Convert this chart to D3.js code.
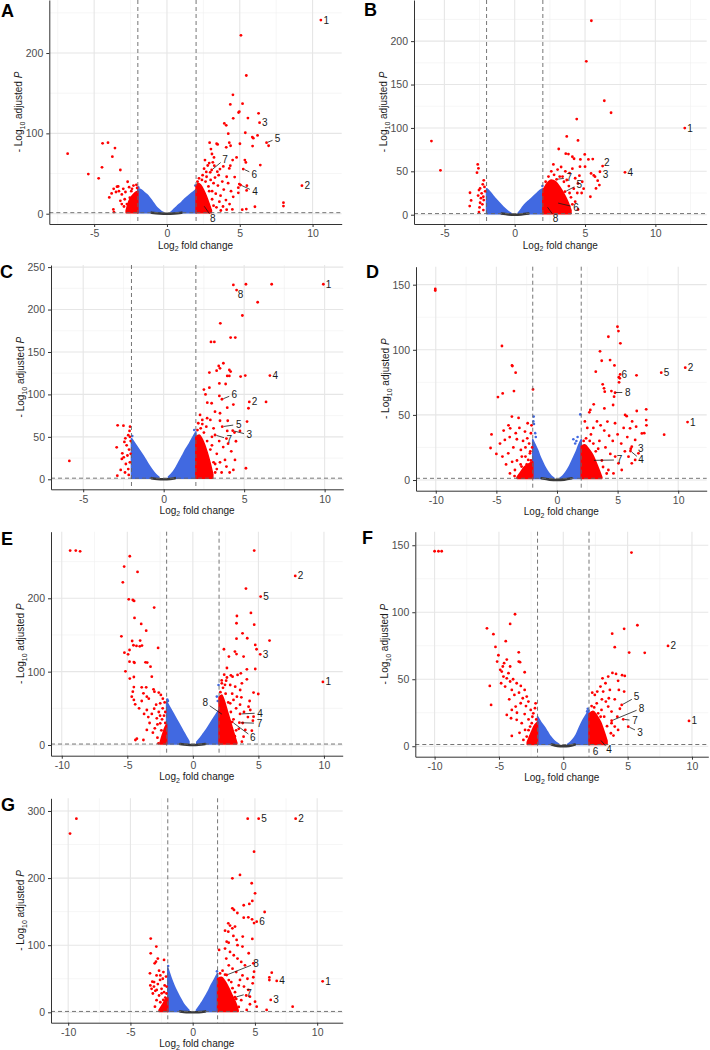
<!DOCTYPE html>
<html><head><meta charset="utf-8">
<script src="https://cdn.jsdelivr.net/npm/d3@7"></script>
<style>body{margin:0;background:#fff;} svg{display:block;font-family:'Liberation Sans',Arial,sans-serif;}</style>
</head><body><svg id="c" width="710" height="1050"></svg>
<script>
// ---------------- DATA ----------------
const THRESH_FC = 2, THRESH_P = 1.3;

// Panel A
const A_xRange=[-8.08,12.0], A_yRange=[-12.8,266], A_xTicks=[-5,0,5,10], A_yTicks=[0,100,200];
const A_blueL=[[-2,31],[-1.8,30],[-1.6,27],[-1.4,24],[-1.2,20],[-1,15],[-0.8,10],[-0.6,6],[-0.4,3],[-0.25,1.5]];
const A_blueR=[[0.25,1.5],[0.4,4],[0.6,7.5],[0.8,11],[1,14],[1.2,18],[1.4,21],[1.6,24],[1.8,27],[2,30]];
const A_blueX=[[1.95,35],[-1.97,33]];
const A_gray=[[-1.05,1.3],[-0.5,0.3],[0,0],[0.5,0.3],[1.0,1.3]];
const A_denseR=[[2,34],[2.15,38],[2.3,36],[2.5,30],[2.7,22],[2.9,12],[3.05,4]];
const A_denseL=[[-2.8,4],[-2.6,16],[-2.4,22],[-2.2,26],[-2.0,28]];
const A_red=[[-6.82,74.7],[-5.4,49.4],[-4.69,44],[-4.42,87.6],[-4.05,88.4],[-3.57,81.7],[-3.75,71],[-4.46,57.7],[-3.2,54.4],[-3.96,20.3],[-3.8,25.3],[-3.66,31],[-3.43,33.6],[-3.35,34],[-2.7,39.8],[-3.68,5.4],[-3.64,2],[-3.3,28],[-3.1,24],[-3.0,31],[-2.9,18],[-2.85,27],[-2.75,12],[-2.6,33],[-2.55,20],[-2.5,8],[-2.45,28],[-2.35,15],[-2.3,35],[-2.25,5],[-2.2,22],[-2.15,10],[-2.1,36],[-3.2,16],[-2.95,9],[-2.65,4],[-3.5,27],[-3.1,12],[-2.05,32],[-2.4,31],
[10.57,241],[5.08,222],[5.45,172],[4.53,148],[4.35,136],[5.19,137],[4.97,127],[4.92,126],[4.55,118.7],[5.56,119],[6.29,125],[6.36,113.3],[5.38,100.8],[3.94,112.4],[4.07,110],[4.21,99.6],[5.86,95.4],[5.93,94],[6.22,97.5],[6.84,88.4],[6.98,84.6],[5.88,84.2],[5.01,87.1],[4.28,88.4],[4.37,84.6],[4.07,82.6],[2.93,88.4],[3.41,87.1],[3.48,86.3],[3.02,80.5],[3.09,74.3],[3.23,70.1],[4.78,70.1],[4.51,66.8],[5.35,66.8],[5.42,63.9],[6.41,60.6],[5.24,55.6],[2.61,66.8],[3.87,58.9],[4.28,56.4],[4.35,59.8],[4.65,45.6],[5.06,35.7],[5.49,34.9],[4.9,32.4],[5.47,29],[9.27,34.9],[8.0,13.7],[8.0,9.5],[6.04,8.7],[5.45,5.8],[5.17,5],[4.49,5.4],[4.1,5],[4.97,36.9],[4.9,26],[4.55,21],[4.05,17],[3.68,22.4],[3.46,52.3],[3.64,55.6],[3.25,59.8],[2.97,51.5],[2.72,46],[3.07,54.4],[2.5,10.8],[3.8,40],[3.5,35],[3.3,45],[3.9,30],[4.2,38],[3.6,15],[3.4,8],[3.0,4],[3.7,4],[2.8,60],[2.9,63],[3.15,64],[3.55,48],[4.1,46],[4.4,28],[3.2,38],[3.1,28],[2.7,52],[2.55,56],[3.35,25],[4.3,12],[3.85,9],[2.85,34],[2.65,40],[2.2,44],[2.4,42],[2.1,40],[2.9,28],[3.1,18],[3.2,10],[2.45,48],[3.0,42]];
const A_labels=[[1,10.57,241,null,null],[2,9.27,34.9,null,null],[3,6.36,113.3,null,null],[4,5.06,35.7,6.04,27.4],[5,6.84,88.4,7.6,93.8],[6,5.24,55.6,6.0,49.4],[7,3.07,54.4,3.98,68.1],[8,2.5,10.8,3.14,-5.8]];

// Panel B
const B_xRange=[-7.16,13.65], B_yRange=[-10.7,247.4], B_xTicks=[-5,0,5,10], B_yTicks=[0,50,100,150,200];
const B_blueL=[[-2,30],[-1.8,27],[-1.6,23],[-1.4,19],[-1.2,15.5],[-1,12],[-0.8,8.5],[-0.6,5.5],[-0.4,3],[-0.25,1.5]];
const B_blueR=[[0.25,2],[0.4,5],[0.6,9.5],[0.8,13],[1.0,16],[1.2,19],[1.4,22],[1.6,25],[1.8,28],[2,30]];
const B_blueX=[[1.97,33]];
const B_gray=[[-0.92,1.3],[-0.45,0.3],[0,0],[0.45,0.3],[0.97,1.3]];
const B_denseR=[[2,28],[2.3,36],[2.6,40],[2.9,38],[3.2,32],[3.5,24],[3.8,14],[4.0,5]];
const B_denseL=[];
const B_red=[[-5.92,84.9],[-5.28,51.1],[-2.63,58],[-2.58,53.4],[-2.68,48.4],[-3.18,25.3],[-3.1,16.5],[-3.2,10],[-2.2,39.6],[-2.27,35],[-2.46,30.3],[-2.54,28.4],[-2.35,24.6],[-2.23,20.7],[-2.2,16.9],[-2.46,13.8],[-2.5,8.4],[-2.23,5.4],[-2.54,3],[-2.3,12],[-2.1,27],[-2.4,19],[-2.15,32],[-2.6,22],
[12.09,99.8],[5.45,223.5],[5.09,176.7],[6.37,131.3],[6.85,117.5],[4.41,110.2],[3.7,90.2],[4.5,85.6],[3.13,75.7],[3.63,70.3],[3.82,69.9],[4.98,69.5],[5.55,64.1],[5.24,63.7],[4.22,64.5],[4.67,63.7],[4.1,66.8],[6.25,56],[6.06,49.5],[7.84,48.8],[5.0,55.3],[4.64,55.3],[5.43,47.6],[5.62,45.3],[5.71,43.8],[5.9,39.2],[6.02,34.2],[5.78,30.3],[5.38,20.7],[2.98,40.8],[3.57,26.5],[2.98,13.8],[2.27,10],[4.1,53],[3.9,48],[3.6,50],[3.3,55],[3.05,52],[2.75,58],[2.6,50],[3.4,44],[4.3,42],[4.5,36],[4.2,30],[4.45,25],[4.0,20],[4.3,15],[3.8,10],[4.5,6],[3.5,4],[3.2,7],[4.8,38],[4.6,45],[2.9,3],[3.85,33],[3.7,40],[4.76,25],[4.9,30],[2.4,44],[2.2,38],[2.8,46],[3.2,44],[3.5,38],[3.9,25],[4.1,12]];
const B_labels=[[1,12.09,99.8,null,null],[2,6.25,56,6.55,59.8],[3,6.06,49.5,6.45,45.8],[4,7.84,48.8,null,null],[5,3.57,26.5,4.59,35],[6,2.98,13.8,4.36,8.5],[7,2.98,40.8,3.88,42.6],[8,2.27,10,2.91,-4.1]];

// Panel C
const C_xRange=[-7.0,11.16], C_yRange=[-11.8,252.5], C_xTicks=[-5,0,5,10], C_yTicks=[0,50,100,150,200,250];
const C_blueL=[[-2,48],[-1.75,41],[-1.5,34],[-1.25,27],[-1,19],[-0.75,12],[-0.5,6],[-0.3,2.5]];
const C_blueR=[[0.3,3],[0.6,9],[0.8,15],[1,22],[1.2,29],[1.4,36],[1.6,42],[1.8,49],[2,56]];
const C_blueX=[[1.9,58],[-1.95,51]];
const C_gray=[[-0.75,1.3],[-0.4,0.3],[0,0],[0.4,0.3],[0.7,1.3]];
const C_denseR=[[2,50],[2.2,52],[2.45,45],[2.7,32],[2.9,18],[3.05,6]];
const C_denseL=[];
const C_red=[[-5.86,21.6],[-2.86,63.6],[-2.5,63.2],[-2.92,37.7],[-2.38,48.3],[-2.44,44],[-2.57,30.6],[-2.48,25.9],[-2.67,11],[-2.88,4.3],[-2.17,5.1],[-2.09,62],[-2.12,57],[-2.2,52],[-2.3,40],[-2.15,35],[-2.25,28],[-2.1,20],[-2.35,18],[-2.2,12],[-2.4,8],[-2.6,24],[-2.05,45],[-2.1,50],[-2.05,30],
[9.92,229.8],[4.33,229],[5.11,229.8],[6.71,229.8],[4.53,223],[5.84,208.6],[4.89,193],[3.52,183.8],[2.94,161.8],[3.15,161.8],[4.16,167],[4.45,167],[2.84,125.7],[3.71,136.7],[3.42,133.5],[3.5,130.8],[3.29,128],[4.08,128.8],[4.16,126.9],[3.95,121.8],[4.08,121.8],[4.78,121],[5.07,122.2],[6.6,122.2],[3.46,113],[3.85,112.3],[2.84,108],[2.5,105.7],[2.6,100],[3.62,94.3],[3.46,98.2],[5.32,91.1],[6.36,91.1],[5.27,83.7],[4.33,88],[3.95,84.4],[2.71,90.3],[2.98,89.6],[3.19,79.7],[3.5,77.8],[2.26,75.8],[5.18,68],[3.98,69],[3.5,69],[3.64,62],[3.95,57],[4.74,57],[4.29,57.3],[4.4,55],[3.19,52.2],[4.49,44.8],[3.81,22.8],[4.43,22.8],[5.11,13],[4.33,11],[4.1,8],[3.6,8],[3.3,30],[3.7,38],[4.0,42],[4.2,33],[3.45,45],[3.9,48],[3.1,60],[2.9,70],[2.7,72],[2.4,65],[3.3,12],[3.9,15],[3.0,40],[3.5,20],[3.2,18],[2.9,8],[2.1,58],[2.3,60],[2.5,55],[2.7,45],[2.9,35],[3.1,20],[3.2,8],[2.65,62],[2.4,70],[2.15,66],[3.0,50]];
const C_labels=[[1,9.92,229.8,null,null],[2,5.32,91.1,null,null],[3,4.29,57.3,5.32,52.2],[4,6.6,122.2,null,null],[5,3.64,62,4.66,64.8],[6,3.62,94.3,4.39,100.2],[7,3.19,52.2,4.08,47.1],[8,4.53,223,4.78,218]];

// Panel D
const D_xRange=[-11.63,12.35], D_yRange=[-8.2,163.8], D_xTicks=[-10,-5,0,5,10], D_yTicks=[0,50,100,150];
const D_blueL=[[-2,31],[-1.8,27],[-1.6,23],[-1.4,18],[-1.2,14],[-1,10],[-0.8,7],[-0.6,4.5],[-0.4,2.5],[-0.25,1.4]];
const D_blueR=[[0.25,1.4],[0.4,2.5],[0.6,4.5],[0.8,7],[1,10],[1.2,14],[1.4,18],[1.6,22],[1.8,27],[2,31]];
const D_blueX=[[-1.92,48.7],[-1.95,45],[-1.9,43],[-1.8,36],[-1.75,33],[1.92,50.4],[1.35,31.3],[1.6,30],[1.5,28],[1.7,33]];
const D_gray=[[-1.27,1.3],[-0.6,0.3],[0,0],[0.6,0.3],[1.21,1.3]];
const D_denseR=[[2,26],[2.3,27],[2.6,24],[2.9,20],[3.2,14],[3.5,7],[3.7,2]];
const D_denseL=[[-3.3,2],[-3.0,6],[-2.7,10],[-2.4,12],[-2.0,14]];
const D_red=[[-10.04,146.7],[-10.04,145.5],[-4.54,102.9],[-4.87,63.7],[-4.48,66.5],[-3.71,88],[-3.68,87.5],[-3.41,82.4],[-3.55,68.3],[-1.98,69.6],[-5.4,35],[-5.48,24.6],[-3.72,48.7],[-3.17,47.7],[-2.42,43.6],[-2.64,37.2],[-3.86,39.7],[-4.3,30.8],[-4.02,20.5],[-3.31,31.3],[-2.98,23.1],[-2.37,15.4],[-2.15,35.9],[-2.92,10.3],[-3.47,7.7],[-3.88,5.1],[-2.51,5.1],[-2.23,20.5],[-4.7,28],[-4.5,18],[-4.2,12],[-3.9,33],[-3.6,25],[-3.3,15],[-3.1,40],[-2.8,30],[-2.6,25],[-2.5,12],[-2.3,28],[-2.2,8],[-2.1,42],[-2.9,18],[-3.5,3],[-2.7,3],[-4.0,42],[-3.4,36],[-2.45,32],[-2.15,15],[-4.4,38],[-5.0,20],[-3.7,14],[-2.35,3],[-2.05,25],[-2.6,18],[-3.0,12],[-2.2,22],
[4.99,117.7],[5.07,114.4],[4.24,110],[5.23,105],[3.55,98.8],[3.69,91.6],[4.38,92.1],[3.2,83.2],[4.74,88],[6.56,80.4],[5.21,81.1],[5.18,78.1],[5.12,75],[3.77,73.5],[3.88,70.4],[4.49,68.3],[4.79,67],[4.71,64],[8.6,82.4],[10.58,86.3],[10.77,44.5],[8.84,34.8],[7.36,46],[7.36,54.3],[6.58,53],[7.38,42],[6.53,41],[7.0,35.8],[7.2,36],[5.62,50],[5.75,49],[3.94,67.8],[3.03,58.1],[2.75,53.8],[2.67,52],[4.63,57.6],[3.91,55],[4.16,44.9],[4.79,43.6],[6.03,39.7],[6.45,30.8],[6.17,25.6],[6.72,20.5],[5.9,17.9],[6.45,15.4],[6.17,12.8],[5.07,12.8],[5.34,7.7],[4.66,5.1],[4.24,7.7],[3.55,2.6],[3.0,40],[3.3,45],[3.6,42],[3.9,38],[4.3,34],[4.6,30],[5.0,35],[5.3,28],[5.6,22],[3.5,30],[4.0,25],[4.4,20],[4.8,18],[3.2,22],[3.7,15],[5.5,40],[6.2,45],[5.8,33],[2.8,35],[2.5,40],[2.3,45],[2.2,30],[6.09,24.1],[6.06,22.3],[2.92,15.1],[5.1,79],[2.4,32],[2.7,30],[3.0,28],[3.4,24],[3.8,10],[4.1,5]];
const D_labels=[[1,10.77,44.5,null,null],[2,10.58,86.3,null,null],[3,6.09,24.1,6.91,24.5],[4,6.06,22.3,6.94,15.5],[5,8.6,82.4,null,null],[6,5.1,79,5.56,81.3],[7,2.92,15.1,5.15,15.4],[8,4.71,67.2,5.84,67.2]];

// Panel E
const E_xRange=[-10.82,11.43], E_yRange=[-14.6,290.8], E_xTicks=[-10,-5,0,5,10], E_yTicks=[0,100,200];
const E_blueL=[[-2,59],[-1.75,51],[-1.5,43],[-1.25,35],[-1,27],[-0.75,19],[-0.5,11],[-0.3,5]];
const E_blueR=[[0.3,4],[0.5,8],[0.75,14],[1,20],[1.25,27],[1.5,34],[1.75,41],[2,48]];
const E_blueX=[[-1.95,62],[-1.9,60],[1.96,81.8],[1.83,66],[1.9,60]];
const E_gray=[[-0.97,1.3],[-0.45,0.3],[0,0],[0.45,0.3],[0.94,1.3]];
const E_denseR=[[2,65],[2.2,68],[2.4,60],[2.6,48],[2.8,36],[3.0,24],[3.2,12],[3.35,3]];
const E_denseL=[[-2.5,3],[-2.3,15],[-2.1,25],[-2,28]];
const E_red=[[-9.36,265],[-8.93,265],[-8.6,264],[-4.81,257.3],[-5.24,243.2],[-4.22,236],[-5.34,221.8],[-4.89,198.6],[-4.58,197.7],[-4.48,196.4],[-2.95,187.3],[-4.45,173.2],[-3.94,165],[-3.56,155.9],[-5.45,148.2],[-4.63,141.8],[-4.02,142.3],[-4.53,136],[-4.3,135],[-4.05,134.5],[-3.88,135.5],[-2.65,132.3],[-4.83,129.5],[-5.22,125.9],[-4.94,123.6],[-4.83,113.6],[-4.5,113],[-4.45,112],[-3.61,112.7],[-3.48,112.3],[-3.23,106.8],[-5.14,100.5],[-4.81,90.5],[-4.5,92.7],[-3.13,93.2],[-3.9,78.6],[-3.56,78.6],[-4.5,79],[-4.58,72.7],[-4.66,65.9],[-4.5,61.4],[-4.4,55.5],[-3.77,70.5],[-3.51,65.9],[-3.36,63.2],[-3.0,75.9],[-2.93,72.7],[-2.6,71.4],[-2.44,68.2],[-2.29,63.2],[-2.49,56.8],[-2.95,49.5],[-3.51,47.7],[-3.72,42.3],[-3.13,42.3],[-2.75,36.4],[-2.49,29.5],[-2.9,22.7],[-3.51,20.5],[-3.77,6.8],[-4.27,8.6],[-4.38,6.8],[-3.05,16.8],[-2.24,6.8],[-2.62,2.3],[-2.3,50],[-2.2,40],[-2.1,30],[-2.4,20],[-2.6,45],[-2.8,55],[-3.3,30],[-3.9,60],[-4.1,50],[-2.2,15],[-2.7,10],[-3.4,38],[-2.15,58],[-2.5,40],[-2.1,45],[-2.35,35],[-2.7,28],
[4.68,265],[7.81,230.5],[5.17,202.3],[4.05,213.2],[4.43,180],[3.36,175.9],[3.33,166],[4.68,164],[3.79,152.3],[4.15,145.5],[3.33,145],[5.85,142.3],[4.76,136.4],[4.86,130.5],[5.14,123.6],[2.37,130.5],[3.21,127.3],[3.33,124],[2.75,120.5],[4.12,103.2],[4.76,103.6],[9.92,86],[4.63,71.4],[4.99,69.5],[4.33,60],[4.38,47.7],[3.6,42.3],[3.55,30.4],[2.31,40.9],[3.0,31.4],[3.87,120.5],[3.66,97.7],[3.41,95.5],[3.03,93.2],[2.39,95.9],[2.21,84.1],[2.54,87.7],[2.85,81.8],[3.23,79.5],[3.61,75],[4.12,89.5],[3.74,84.1],[3.36,65.9],[3.1,61.4],[2.85,56.8],[4.25,52.3],[4.0,20.5],[4.5,19.5],[3.87,11.4],[3.1,6.8],[3.74,4.5],[4.63,38.6],[4.58,33.2],[3.3,50],[3.6,55],[3.9,45],[3.5,22],[3.8,30],[4.2,38],[3.2,12],[2.9,95],[2.6,92],[3.0,70],[2.6,105],[3.7,65],[2.1,72],[2.3,78],[2.5,70],[2.7,58],[2.9,45],[3.1,35],[3.3,20],[2.2,88],[2.45,82]];
const E_labels=[[1,9.92,86,null,null],[2,7.81,230.5,null,null],[3,5.14,123.6,null,null],[4,3.6,42.3,5.13,43.6],[5,5.17,202.3,null,null],[6,3.0,31.4,4.57,10.5],[7,3.55,30.4,5.08,29.6],[8,2.31,40.9,0.94,57.7]];

// Panel F
const F_xRange=[-11.5,11.27], F_yRange=[-7.8,160.1], F_xTicks=[-10,-5,0,5,10], F_yTicks=[0,50,100,150];
const F_blueL=[[-2,22],[-1.75,18],[-1.5,14.7],[-1.25,11],[-1,7.2],[-0.75,4.5],[-0.5,2.5],[-0.35,1.5]];
const F_blueR=[[0.35,1.5],[0.5,2.5],[0.75,5],[1,8.5],[1.25,14],[1.5,19],[1.75,23],[2,27]];
const F_blueX=[[1.9,28],[1.85,26]];
const F_gray=[[-0.9,1.3],[-0.45,0.3],[0,0],[0.45,0.3],[0.9,1.3]];
const F_denseR=[[2,24],[2.3,26],[2.6,23],[2.9,18],[3.2,10],[3.4,4]];
const F_denseL=[[-2.8,3],[-2.5,10],[-2.2,16],[-2,18]];
const F_red=[[-10.0,145.5],[-9.7,145.5],[-9.45,145.5],[-3.75,98.5],[-5.93,88],[-4.13,91.3],[-5.43,83.6],[-4.47,78.4],[-5.27,74.1],[-5.04,67.9],[-3.46,70.1],[-5.14,63.2],[-4.39,64.7],[-3.46,63.2],[-3.36,62.7],[-3.0,55.2],[-5.71,45],[-5.61,30.8],[-4.7,59.5],[-4.13,59.5],[-4.78,55.7],[-4.26,54.5],[-4.65,52],[-4.39,50.7],[-4.83,47],[-4.52,44.5],[-4.13,48.3],[-3.62,47],[-4.0,42],[-3.8,38.3],[-3.44,40],[-3.15,35.8],[-2.84,37.1],[-2.71,33.3],[-3.31,32.1],[-3.7,29.6],[-4.0,27.1],[-4.39,23.4],[-4.06,20.9],[-3.62,19.7],[-3.23,17.2],[-2.97,12.2],[-2.58,14.7],[-2.45,17.2],[-2.33,24.6],[-2.2,28.4],[-2.53,27.1],[-2.84,7.2],[-4.0,7.7],[-3.1,4.7],[-2.33,4.7],[-4.9,57],[-4.6,62],[-4.2,35],[-3.9,50],[-3.6,25],[-3.4,10],[-3.0,24],[-2.7,20],[-2.5,8],[-2.2,12],[-2.1,20],[-3.3,45],[-3.0,42],[-2.9,30],[-2.15,32],[-2.4,22],[-2.7,12],
[5.3,144.5],[5.76,90.3],[4.73,87.6],[3.8,84],[4.0,73.9],[8.14,74.9],[5.12,69.9],[6.33,69.7],[9.77,18.9],[3.82,54.7],[4.1,54],[4.57,53],[4.78,52.5],[4.26,48.8],[3.49,52],[3.05,50.7],[3.28,47],[2.89,44.5],[2.64,40.8],[2.25,40],[2.45,38.3],[3.1,40.8],[3.62,42],[4.32,42],[4.73,40.8],[3.54,35.8],[3.31,33.3],[3.49,29.6],[2.97,27.1],[2.71,24.6],[3.18,22.1],[3.75,25.9],[3.75,17.2],[4.0,14.7],[4.26,12.2],[3.7,9.7],[2.71,7.2],[3.23,4.7],[2.45,2.2],[4.54,30.8],[3.76,19.1],[4.66,20.1],[5.05,14.6],[2.85,5.2],[2.46,3.4],[4.0,35],[4.4,28],[3.4,15],[3.0,35],[2.6,32],[4.2,22],[3.9,8],[2.2,30],[2.4,29],[2.9,22]];
const F_labels=[[1,9.77,18.9,null,null],[2,8.14,74.9,null,null],[3,5.05,14.6,5.96,10.4],[4,2.85,5.2,3.55,-2.8],[5,4.54,30.8,5.7,37],[6,2.46,3.4,2.51,-4],[7,4.66,20.1,5.57,19.1],[8,3.76,19.1,6.09,28.4]];

// Panel G
const G_xRange=[-11.38,12.05], G_yRange=[-15.5,318.9], G_xTicks=[-10,-5,0,5,10], G_yTicks=[0,100,200,300];
const G_blueL=[[-2,66],[-1.75,52],[-1.5,40],[-1.25,30],[-1,21],[-0.75,13],[-0.5,7],[-0.3,3]];
const G_blueR=[[0.3,3],[0.5,8.5],[0.75,15],[1,23],[1.25,31],[1.5,40.7],[1.75,49],[2,58]];
const G_blueX=[[-1.97,69],[1.95,61]];
const G_gray=[[-1.0,1.3],[-0.5,0.3],[0,0],[0.5,0.3],[1.0,1.3]];
const G_denseR=[[2,50],[2.3,52],[2.6,46],[2.9,36],[3.2,24],[3.5,12],[3.65,3]];
const G_denseL=[[-2.7,3],[-2.4,12],[-2.15,20],[-2,22]];
const G_red=[[-9.34,288.6],[-9.85,266.3],[-3.37,109.8],[-2.92,97.9],[-3.37,87.9],[-2.8,80],[-2.95,75.5],[-3.05,73],[-2.3,78],[-3.43,58.1],[-3.24,45.7],[-3.11,38.3],[-2.89,33.3],[-2.62,48.2],[-2.49,28.3],[-3.03,8.4],[-2.36,18.4],[-2.14,53.2],[-2.09,38.3],[-3.4,40],[-3.3,35],[-3.1,45],[-2.9,55],[-2.8,42],[-2.7,25],[-2.6,15],[-2.5,35],[-2.4,50],[-2.3,30],[-2.2,22],[-2.15,10],[-2.7,62],[-3.2,28],[-2.45,4],[-2.9,18],[-3.0,32],[-2.35,60],[-2.6,55],[-2.1,28],[-2.25,40],
[4.42,288.6],[5.3,288.6],[8.27,288.6],[4.93,239.4],[3.8,204.7],[3.19,199.7],[4.74,192.3],[5.01,177.3],[4.79,166],[4.55,161.5],[4.1,159.5],[3.19,155],[3.32,152.5],[5.78,149.5],[3.59,148],[4.1,141],[4.47,141.6],[4.77,138.6],[5.14,135.1],[4.93,133],[2.86,132.6],[3.0,129.2],[3.19,125.2],[3.4,127.7],[2.86,120.2],[2.6,121.7],[3.53,107.8],[4.02,112.8],[3.27,113.8],[2.73,105.3],[2.89,103.8],[2.12,92.9],[4.79,109.3],[6.35,59.1],[6.16,52],[6.16,48],[6.75,46.7],[10.44,46.2],[4.87,73],[4.93,60.6],[4.87,52.2],[4.82,43.2],[5.01,15.9],[6.27,18.4],[8.03,8.4],[5.14,8.4],[4.34,3.5],[5.94,3.5],[4.6,23.3],[4.47,33.3],[4.12,38.3],[3.8,48.2],[3.0,90],[3.3,85],[3.6,80],[3.9,75],[4.2,70],[2.6,95],[2.9,70],[3.2,65],[3.5,60],[4.0,55],[4.4,50],[3.7,40],[4.3,25],[3.9,18],[4.6,12],[3.4,30],[3.1,45],[2.7,80],[4.5,88],[4.0,98],[3.6,100],[2.73,55.6],[3.4,22.4],[2.2,58],[2.4,62],[2.6,56],[2.9,48],[3.2,36],[3.5,20],[3.7,8]];
const G_labels=[[1,10.44,46.2,null,null],[2,8.27,288.6,null,null],[3,6.27,18.4,null,null],[4,6.75,46.7,null,null],[5,5.3,288.6,null,null],[6,5.14,135.1,null,null],[7,3.4,22.4,4.52,28.3],[8,2.73,55.6,5.09,73]];

// ---------------- LAYOUT ----------------
const panels=[
 {letter:'A',box:[49.3,341.7,0,224],lab:[1,17],xRange:A_xRange,yRange:A_yRange,xTicks:A_xTicks,yTicks:A_yTicks,blueL:A_blueL,blueR:A_blueR,blueX:A_blueX,gray:A_gray,denseR:A_denseR,denseL:A_denseL,red:A_red,labels:A_labels},
 {letter:'B',box:[414,706.7,0,224],lab:[364,16],xRange:B_xRange,yRange:B_yRange,xTicks:B_xTicks,yTicks:B_yTicks,blueL:B_blueL,blueR:B_blueR,blueX:B_blueX,gray:B_gray,denseR:B_denseR,denseL:B_denseL,red:B_red,labels:B_labels},
 {letter:'C',box:[51,343.3,265,489.3],lab:[0,278],xRange:C_xRange,yRange:C_yRange,xTicks:C_xTicks,yTicks:C_yTicks,blueL:C_blueL,blueR:C_blueR,blueX:C_blueX,gray:C_gray,denseR:C_denseR,denseL:C_denseL,red:C_red,labels:C_labels},
 {letter:'D',box:[416,706.7,266.7,490.7],lab:[366,278],xRange:D_xRange,yRange:D_yRange,xTicks:D_xTicks,yTicks:D_yTicks,blueL:D_blueL,blueR:D_blueR,blueX:D_blueX,gray:D_gray,denseR:D_denseR,denseL:D_denseL,red:D_red,labels:D_labels},
 {letter:'E',box:[51,342.7,531.7,755.7],lab:[1,545],xRange:E_xRange,yRange:E_yRange,xTicks:E_xTicks,yTicks:E_yTicks,blueL:E_blueL,blueR:E_blueR,blueX:E_blueX,gray:E_gray,denseR:E_denseR,denseL:E_denseL,red:E_red,labels:E_labels},
 {letter:'F',box:[415.3,708.3,531.7,756.7],lab:[362,544],xRange:F_xRange,yRange:F_yRange,xTicks:F_xTicks,yTicks:F_yTicks,blueL:F_blueL,blueR:F_blueR,blueX:F_blueX,gray:F_gray,denseR:F_denseR,denseL:F_denseL,red:F_red,labels:F_labels},
 {letter:'G',box:[51,342.7,798.3,1022.7],lab:[1,811],xRange:G_xRange,yRange:G_yRange,xTicks:G_xTicks,yTicks:G_yTicks,blueL:G_blueL,blueR:G_blueR,blueX:G_blueX,gray:G_gray,denseR:G_denseR,denseL:G_denseL,red:G_red,labels:G_labels}
];

const RED='#ff0000', BLUE='#4169e1', GRAY='#3a3a3a';
const svg=d3.select('#c');
const defs=svg.append('defs');

function minorTicks(t,dom){const s=t[1]-t[0];const o=[];for(let v=t[0]-1.5*s;v<=dom[1];v+=s){if(v>=dom[0])o.push(v);}return o;}

panels.forEach(p=>{
  const [x0,x1,y0,y1]=p.box;
  const sx=d3.scaleLinear().domain(p.xRange).range([x0,x1]);
  const sy=d3.scaleLinear().domain(p.yRange).range([y1,y0]);
  const g=svg.append('g');
  const cid='clip'+p.letter;
  defs.append('clipPath').attr('id',cid).append('rect').attr('x',x0).attr('y',y0).attr('width',x1-x0).attr('height',y1-y0);
  const grid=g.append('g');
  minorTicks(p.xTicks,p.xRange).forEach(v=>grid.append('line').attr('x1',sx(v)).attr('x2',sx(v)).attr('y1',y0).attr('y2',y1).attr('stroke','#f0f0f0').attr('stroke-width',0.6));
  minorTicks(p.yTicks,p.yRange).forEach(v=>grid.append('line').attr('y1',sy(v)).attr('y2',sy(v)).attr('x1',x0).attr('x2',x1).attr('stroke','#f0f0f0').attr('stroke-width',0.6));
  p.xTicks.forEach(v=>grid.append('line').attr('x1',sx(v)).attr('x2',sx(v)).attr('y1',y0).attr('y2',y1).attr('stroke','#e6e6e6').attr('stroke-width',1.1));
  p.yTicks.forEach(v=>grid.append('line').attr('y1',sy(v)).attr('y2',sy(v)).attr('x1',x0).attr('x2',x1).attr('stroke','#e6e6e6').attr('stroke-width',1.1));

  const pg=g.append('g').attr('clip-path','url(#'+cid+')');
  const cloud=d3.area().x(d=>sx(d[0])).y0(sy(THRESH_P)).y1(d=>sy(d[1])).curve(d3.curveMonotoneX);
  [p.blueL,p.blueR].forEach(arr=>{ if(arr.length) pg.append('path').attr('d',cloud(arr)).attr('fill',BLUE).attr('stroke',BLUE).attr('stroke-width',1.6).attr('stroke-linejoin','round');});
  pg.selectAll('.bx').data(p.blueX).enter().append('circle').attr('cx',d=>sx(d[0])).attr('cy',d=>sy(d[1])).attr('r',1.3).attr('fill',BLUE);
  pg.append('path').attr('d',d3.line().x(d=>sx(d[0])).y(d=>sy(d[1])).curve(d3.curveMonotoneX)(p.gray)).attr('fill','none').attr('stroke',GRAY).attr('stroke-width',2.6).attr('stroke-linecap','round');
  [p.denseL,p.denseR].forEach(arr=>{ if(arr.length) pg.append('path').attr('d',cloud(arr)).attr('fill',RED).attr('stroke',RED).attr('stroke-width',1.6).attr('stroke-linejoin','round');});
  pg.selectAll('.rp').data(p.red).enter().append('circle').attr('cx',d=>sx(d[0])).attr('cy',d=>sy(d[1])).attr('r',1.4).attr('fill',RED);
  [-THRESH_FC,THRESH_FC].forEach(v=>g.append('line').attr('x1',sx(v)).attr('x2',sx(v)).attr('y1',y0).attr('y2',y1).attr('stroke','#666').attr('stroke-width',0.9).attr('stroke-dasharray','4,3'));
  g.append('line').attr('x1',x0).attr('x2',x1).attr('y1',sy(THRESH_P)).attr('y2',sy(THRESH_P)).attr('stroke','#666').attr('stroke-width',0.9).attr('stroke-dasharray','4,3');
  const ax=g.append('g').attr('transform',`translate(0,${y1})`).call(d3.axisBottom(sx).tickValues(p.xTicks).tickSize(3).tickSizeOuter(0).tickPadding(3).tickFormat(d=>String(d)));
  const ay=g.append('g').attr('transform',`translate(${x0},0)`).call(d3.axisLeft(sy).tickValues(p.yTicks).tickSize(3).tickSizeOuter(0).tickPadding(3).tickFormat(d=>String(d)));
  [ax,ay].forEach(a=>{a.select('.domain').attr('stroke','#333').attr('stroke-width',1);a.selectAll('.tick line').attr('stroke','#333');a.selectAll('text').attr('fill','#4d4d4d').attr('font-size',10.5).attr('font-family','Liberation Sans, Arial, sans-serif');});
  p.labels.forEach(l=>{
    const [n,px,py,tx,ty]=l;
    const X=sx(px),Y=sy(py);
    if(tx===null){
      g.append('text').attr('x',X+2.5).attr('y',Y).attr('dy','0.35em').attr('font-size',10).attr('fill','#1a1a1a').text(n);
    } else {
      const TX=sx(tx),TY=sy(ty);
      const dx=TX-X,dy=TY-Y,dist=Math.hypot(dx,dy);
      if(dist>11){
        const ux=dx/dist,uy=dy/dist;
        g.append('line').attr('x1',X+ux*1.5).attr('y1',Y+uy*1.5).attr('x2',TX-ux*5.5).attr('y2',TY-uy*5.5).attr('stroke','#1a1a1a').attr('stroke-width',0.8);
      }
      g.append('text').attr('x',TX).attr('y',TY).attr('dy','0.35em').attr('text-anchor','middle').attr('font-size',10).attr('fill','#1a1a1a').text(n);
    }
  });
  const xt=svg.append('text').attr('x',(x0+x1)/2).attr('y',y1+24.5).attr('text-anchor','middle').attr('font-size',10).attr('fill','#1a1a1a');
  xt.append('tspan').text('Log');
  xt.append('tspan').attr('font-size',7).attr('dy',2.5).text('2');
  xt.append('tspan').attr('dy',-2.5).text(' fold change');
  const yc=(y0+y1)/2, yx=x0-27;
  const yt=svg.append('text').attr('transform',`translate(${yx},${yc}) rotate(-90)`).attr('text-anchor','middle').attr('font-size',10).attr('fill','#1a1a1a');
  yt.append('tspan').text('- Log');
  yt.append('tspan').attr('font-size',7).attr('dy',2.5).text('10');
  yt.append('tspan').attr('dy',-2.5).text(' adjusted ');
  yt.append('tspan').attr('font-style','italic').text('P');
  svg.append('text').attr('x',p.lab[0]).attr('y',p.lab[1]).attr('font-size',18).attr('font-weight','bold').attr('fill','#000').text(p.letter);
});
</script></body></html>
